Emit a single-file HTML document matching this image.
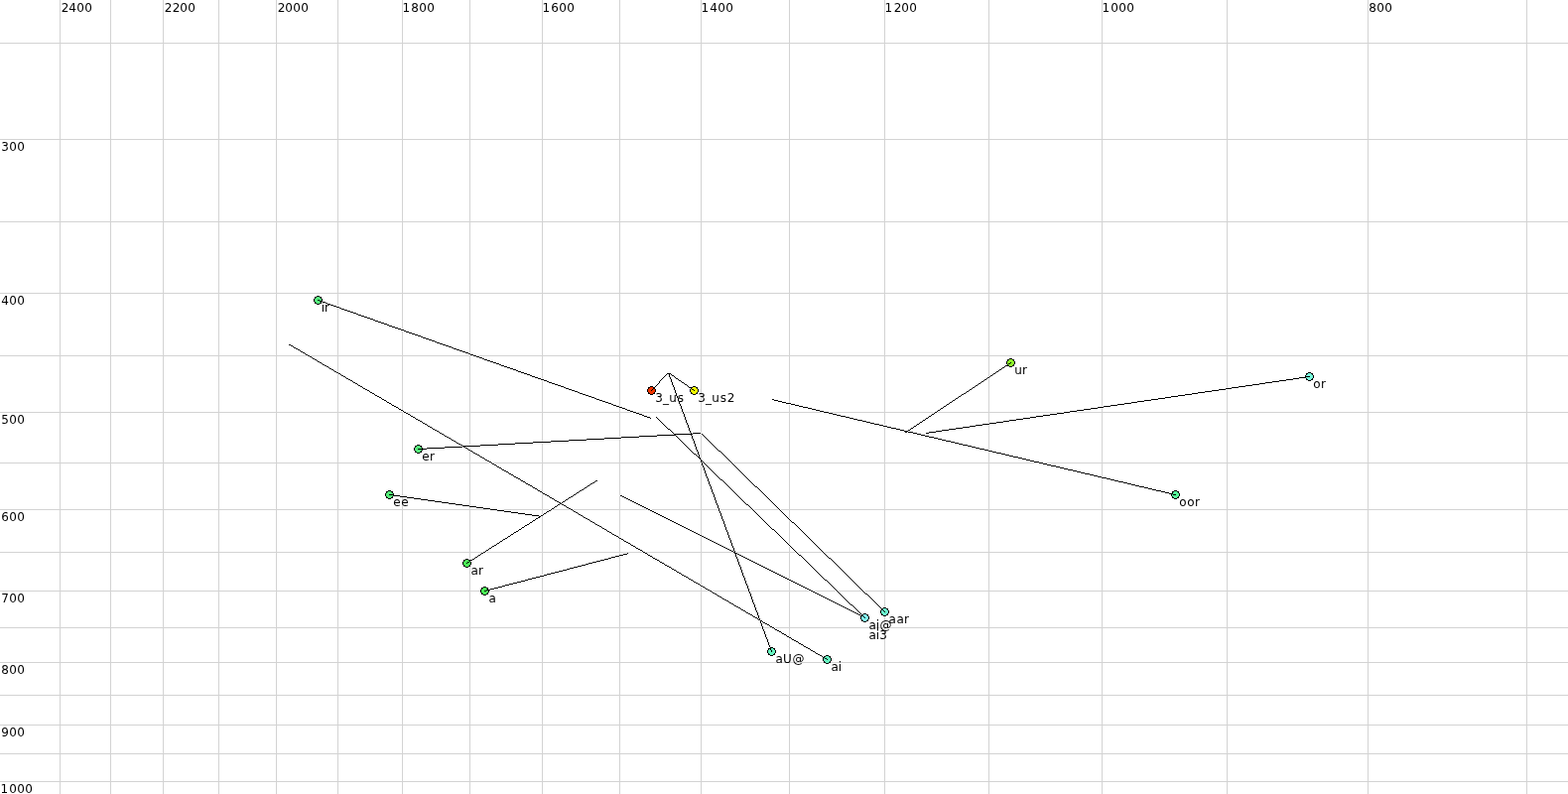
<!DOCTYPE html>
<html><head><meta charset="utf-8"><title>Vowel chart</title>
<style>html,body{margin:0;padding:0;background:#fff;overflow:hidden}svg{display:block}text{font-family:'DejaVu Sans','Liberation Sans',sans-serif;font-size:12px;fill:#000}</style></head><body>
<svg width="1580" height="800" viewBox="0 0 1580 800">
<rect width="1580" height="800" fill="#fff"/>
<path fill="#d3d3d3" shape-rendering="crispEdges" d="M60 0h1v800h-1zM111 0h1v800h-1zM164 0h1v800h-1zM220 0h1v800h-1zM278 0h1v800h-1zM340 0h1v800h-1zM405 0h1v800h-1zM473 0h1v800h-1zM546 0h1v800h-1zM624 0h1v800h-1zM706 0h1v800h-1zM795 0h1v800h-1zM891 0h1v800h-1zM996 0h1v800h-1zM1110 0h1v800h-1zM1236 0h1v800h-1zM1378 0h1v800h-1zM1538 0h1v800h-1zM0 43h1580v1h-1580zM0 140h1580v1h-1580zM0 223h1580v1h-1580zM0 295h1580v1h-1580zM0 358h1580v1h-1580zM0 415h1580v1h-1580zM0 466h1580v1h-1580zM0 513h1580v1h-1580zM0 556h1580v1h-1580zM0 595h1580v1h-1580zM0 632h1580v1h-1580zM0 667h1580v1h-1580zM0 700h1580v1h-1580zM0 730h1580v1h-1580zM0 759h1580v1h-1580zM0 787h1580v1h-1580z"/>
<path fill="none" stroke="#fff" stroke-width="2" stroke-linecap="square" d="M320.500 302.500L655.500 421.165M833.500 664.500L291.660 347.190M656.500 393.500L672.500 376.500M699.500 393.500L674.920 376.500M777.500 656.500L673.850 376.500M421.500 452.500L705.500 436.560M891.500 616.500L707.500 437.470M871.500 622.500L661.500 420.475M1184.500 498.500L778.500 402.740M1018.500 365.500L912.580 435.730M1319.500 379.500L933.500 436.345M392.500 498.500L544.500 520.210M470.500 567.500L601.360 484.230M488.500 595.500L632.500 557.770M871.500 622.500L625.500 499.250"/>
<text x="61.84 69.23 77.19 85.19" y="12">2400</text>
<text x="165.84 173.84 181.19 189.19" y="12">2200</text>
<text x="279.84 287.19 295.19 303.19" y="12">2000</text>
<text x="405.58 414.19 422.19 430.19" y="12">1800</text>
<text x="546.58 555.14 563.19 571.19" y="12">1600</text>
<text x="706.58 715.23 723.19 731.19" y="12">1400</text>
<text x="891.58 900.84 908.19 916.19" y="12">1200</text>
<text x="1110.58 1119.19 1127.19 1135.19" y="12">1000</text>
<text x="1379.19 1387.19 1395.19" y="12">800</text>
<text x="1.21 9.19 17.19" y="152">300</text>
<text x="1.23 9.19 17.19" y="307">400</text>
<text x="1.24 9.19 17.19" y="427">500</text>
<text x="1.14 9.19 17.19" y="525">600</text>
<text x="1.2 9.19 17.19" y="607">700</text>
<text x="1.19 9.19 17.19" y="679">800</text>
<text x="1.23 9.19 17.19" y="742">900</text>
<text x="0.58 9.19 17.19 25.19" y="799">1000</text>
<text x="323.83 326.99" y="314">ir</text>
<text x="660.21 668 674.23 682.84" y="405">3_us</text>
<text x="703.21 711 717.23 725.84 732.84" y="405">3_us2</text>
<text x="1022.23 1029.99" y="377">ur</text>
<text x="1323.33 1330.99" y="391">or</text>
<text x="425.3 432.99" y="464">er</text>
<text x="396.3 404.3" y="510">ee</text>
<text x="1188.33 1196.33 1203.99" y="510">oor</text>
<text x="474.51 481.99" y="579">ar</text>
<text x="492.51" y="607">a</text>
<text x="875.51 882.83 886.52" y="634">ai@</text>
<text x="875.51 882.83 886.21" y="644">ai3</text>
<text x="895.51 903.51 910.99" y="628">aar</text>
<text x="781.51 789.11 798.52" y="668">aU@</text>
<text x="837.51 844.83" y="676">ai</text>
<g transform="translate(316 298)" shape-rendering="crispEdges"><path fill="#55f27d" d="M3 1h3v1h-3zM2 2h5v1h-5zM1 3h7v1h-7zM1 4h7v1h-7zM1 5h7v1h-7zM2 6h5v1h-5zM3 7h3v1h-3z"/><path fill="#000" d="M3 0h3v1h-3zM1 1h2v1h-2zM6 1h2v1h-2zM1 2h1v1h-1zM7 2h1v1h-1zM0 3h1v1h-1zM8 3h1v1h-1zM0 4h1v1h-1zM8 4h1v1h-1zM0 5h1v1h-1zM8 5h1v1h-1zM1 6h1v1h-1zM7 6h1v1h-1zM1 7h2v1h-2zM6 7h2v1h-2zM3 8h3v1h-3z"/></g>
<g transform="translate(652 389)" shape-rendering="crispEdges"><path fill="#f03400" d="M3 1h3v1h-3zM2 2h5v1h-5zM1 3h7v1h-7zM1 4h7v1h-7zM1 5h7v1h-7zM2 6h5v1h-5zM3 7h3v1h-3z"/><path fill="#000" d="M3 0h3v1h-3zM1 1h2v1h-2zM6 1h2v1h-2zM1 2h1v1h-1zM7 2h1v1h-1zM0 3h1v1h-1zM8 3h1v1h-1zM0 4h1v1h-1zM8 4h1v1h-1zM0 5h1v1h-1zM8 5h1v1h-1zM1 6h1v1h-1zM7 6h1v1h-1zM1 7h2v1h-2zM6 7h2v1h-2zM3 8h3v1h-3z"/></g>
<g transform="translate(695 389)" shape-rendering="crispEdges"><path fill="#f2ff00" d="M3 1h3v1h-3zM2 2h5v1h-5zM1 3h7v1h-7zM1 4h7v1h-7zM1 5h7v1h-7zM2 6h5v1h-5zM3 7h3v1h-3z"/><path fill="#000" d="M3 0h3v1h-3zM1 1h2v1h-2zM6 1h2v1h-2zM1 2h1v1h-1zM7 2h1v1h-1zM0 3h1v1h-1zM8 3h1v1h-1zM0 4h1v1h-1zM8 4h1v1h-1zM0 5h1v1h-1zM8 5h1v1h-1zM1 6h1v1h-1zM7 6h1v1h-1zM1 7h2v1h-2zM6 7h2v1h-2zM3 8h3v1h-3z"/></g>
<g transform="translate(1014 361)" shape-rendering="crispEdges"><path fill="#8cfa28" d="M3 1h3v1h-3zM2 2h5v1h-5zM1 3h7v1h-7zM1 4h7v1h-7zM1 5h7v1h-7zM2 6h5v1h-5zM3 7h3v1h-3z"/><path fill="#000" d="M3 0h3v1h-3zM1 1h2v1h-2zM6 1h2v1h-2zM1 2h1v1h-1zM7 2h1v1h-1zM0 3h1v1h-1zM8 3h1v1h-1zM0 4h1v1h-1zM8 4h1v1h-1zM0 5h1v1h-1zM8 5h1v1h-1zM1 6h1v1h-1zM7 6h1v1h-1zM1 7h2v1h-2zM6 7h2v1h-2zM3 8h3v1h-3z"/></g>
<g transform="translate(1315 375)" shape-rendering="crispEdges"><path fill="#78fadc" d="M3 1h3v1h-3zM2 2h5v1h-5zM1 3h7v1h-7zM1 4h7v1h-7zM1 5h7v1h-7zM2 6h5v1h-5zM3 7h3v1h-3z"/><path fill="#000" d="M3 0h3v1h-3zM1 1h2v1h-2zM6 1h2v1h-2zM1 2h1v1h-1zM7 2h1v1h-1zM0 3h1v1h-1zM8 3h1v1h-1zM0 4h1v1h-1zM8 4h1v1h-1zM0 5h1v1h-1zM8 5h1v1h-1zM1 6h1v1h-1zM7 6h1v1h-1zM1 7h2v1h-2zM6 7h2v1h-2zM3 8h3v1h-3z"/></g>
<g transform="translate(417 448)" shape-rendering="crispEdges"><path fill="#55f07a" d="M3 1h3v1h-3zM2 2h5v1h-5zM1 3h7v1h-7zM1 4h7v1h-7zM1 5h7v1h-7zM2 6h5v1h-5zM3 7h3v1h-3z"/><path fill="#000" d="M3 0h3v1h-3zM1 1h2v1h-2zM6 1h2v1h-2zM1 2h1v1h-1zM7 2h1v1h-1zM0 3h1v1h-1zM8 3h1v1h-1zM0 4h1v1h-1zM8 4h1v1h-1zM0 5h1v1h-1zM8 5h1v1h-1zM1 6h1v1h-1zM7 6h1v1h-1zM1 7h2v1h-2zM6 7h2v1h-2zM3 8h3v1h-3z"/></g>
<g transform="translate(388 494)" shape-rendering="crispEdges"><path fill="#55f07a" d="M3 1h3v1h-3zM2 2h5v1h-5zM1 3h7v1h-7zM1 4h7v1h-7zM1 5h7v1h-7zM2 6h5v1h-5zM3 7h3v1h-3z"/><path fill="#000" d="M3 0h3v1h-3zM1 1h2v1h-2zM6 1h2v1h-2zM1 2h1v1h-1zM7 2h1v1h-1zM0 3h1v1h-1zM8 3h1v1h-1zM0 4h1v1h-1zM8 4h1v1h-1zM0 5h1v1h-1zM8 5h1v1h-1zM1 6h1v1h-1zM7 6h1v1h-1zM1 7h2v1h-2zM6 7h2v1h-2zM3 8h3v1h-3z"/></g>
<g transform="translate(1180 494)" shape-rendering="crispEdges"><path fill="#55f898" d="M3 1h3v1h-3zM2 2h5v1h-5zM1 3h7v1h-7zM1 4h7v1h-7zM1 5h7v1h-7zM2 6h5v1h-5zM3 7h3v1h-3z"/><path fill="#000" d="M3 0h3v1h-3zM1 1h2v1h-2zM6 1h2v1h-2zM1 2h1v1h-1zM7 2h1v1h-1zM0 3h1v1h-1zM8 3h1v1h-1zM0 4h1v1h-1zM8 4h1v1h-1zM0 5h1v1h-1zM8 5h1v1h-1zM1 6h1v1h-1zM7 6h1v1h-1zM1 7h2v1h-2zM6 7h2v1h-2zM3 8h3v1h-3z"/></g>
<g transform="translate(466 563)" shape-rendering="crispEdges"><path fill="#4aee55" d="M3 1h3v1h-3zM2 2h5v1h-5zM1 3h7v1h-7zM1 4h7v1h-7zM1 5h7v1h-7zM2 6h5v1h-5zM3 7h3v1h-3z"/><path fill="#000" d="M3 0h3v1h-3zM1 1h2v1h-2zM6 1h2v1h-2zM1 2h1v1h-1zM7 2h1v1h-1zM0 3h1v1h-1zM8 3h1v1h-1zM0 4h1v1h-1zM8 4h1v1h-1zM0 5h1v1h-1zM8 5h1v1h-1zM1 6h1v1h-1zM7 6h1v1h-1zM1 7h2v1h-2zM6 7h2v1h-2zM3 8h3v1h-3z"/></g>
<g transform="translate(484 591)" shape-rendering="crispEdges"><path fill="#4aee55" d="M3 1h3v1h-3zM2 2h5v1h-5zM1 3h7v1h-7zM1 4h7v1h-7zM1 5h7v1h-7zM2 6h5v1h-5zM3 7h3v1h-3z"/><path fill="#000" d="M3 0h3v1h-3zM1 1h2v1h-2zM6 1h2v1h-2zM1 2h1v1h-1zM7 2h1v1h-1zM0 3h1v1h-1zM8 3h1v1h-1zM0 4h1v1h-1zM8 4h1v1h-1zM0 5h1v1h-1zM8 5h1v1h-1zM1 6h1v1h-1zM7 6h1v1h-1zM1 7h2v1h-2zM6 7h2v1h-2zM3 8h3v1h-3z"/></g>
<g transform="translate(867 618)" shape-rendering="crispEdges"><path fill="#80fcf4" d="M3 1h3v1h-3zM2 2h5v1h-5zM1 3h7v1h-7zM1 4h7v1h-7zM1 5h7v1h-7zM2 6h5v1h-5zM3 7h3v1h-3z"/><path fill="#000" d="M3 0h3v1h-3zM1 1h2v1h-2zM6 1h2v1h-2zM1 2h1v1h-1zM7 2h1v1h-1zM0 3h1v1h-1zM8 3h1v1h-1zM0 4h1v1h-1zM8 4h1v1h-1zM0 5h1v1h-1zM8 5h1v1h-1zM1 6h1v1h-1zM7 6h1v1h-1zM1 7h2v1h-2zM6 7h2v1h-2zM3 8h3v1h-3z"/></g>
<g transform="translate(887 612)" shape-rendering="crispEdges"><path fill="#6af7cc" d="M3 1h3v1h-3zM2 2h5v1h-5zM1 3h7v1h-7zM1 4h7v1h-7zM1 5h7v1h-7zM2 6h5v1h-5zM3 7h3v1h-3z"/><path fill="#000" d="M3 0h3v1h-3zM1 1h2v1h-2zM6 1h2v1h-2zM1 2h1v1h-1zM7 2h1v1h-1zM0 3h1v1h-1zM8 3h1v1h-1zM0 4h1v1h-1zM8 4h1v1h-1zM0 5h1v1h-1zM8 5h1v1h-1zM1 6h1v1h-1zM7 6h1v1h-1zM1 7h2v1h-2zM6 7h2v1h-2zM3 8h3v1h-3z"/></g>
<g transform="translate(773 652)" shape-rendering="crispEdges"><path fill="#66f5c0" d="M3 1h3v1h-3zM2 2h5v1h-5zM1 3h7v1h-7zM1 4h7v1h-7zM1 5h7v1h-7zM2 6h5v1h-5zM3 7h3v1h-3z"/><path fill="#000" d="M3 0h3v1h-3zM1 1h2v1h-2zM6 1h2v1h-2zM1 2h1v1h-1zM7 2h1v1h-1zM0 3h1v1h-1zM8 3h1v1h-1zM0 4h1v1h-1zM8 4h1v1h-1zM0 5h1v1h-1zM8 5h1v1h-1zM1 6h1v1h-1zM7 6h1v1h-1zM1 7h2v1h-2zM6 7h2v1h-2zM3 8h3v1h-3z"/></g>
<g transform="translate(829 660)" shape-rendering="crispEdges"><path fill="#66f5c0" d="M3 1h3v1h-3zM2 2h5v1h-5zM1 3h7v1h-7zM1 4h7v1h-7zM1 5h7v1h-7zM2 6h5v1h-5zM3 7h3v1h-3z"/><path fill="#000" d="M3 0h3v1h-3zM1 1h2v1h-2zM6 1h2v1h-2zM1 2h1v1h-1zM7 2h1v1h-1zM0 3h1v1h-1zM8 3h1v1h-1zM0 4h1v1h-1zM8 4h1v1h-1zM0 5h1v1h-1zM8 5h1v1h-1zM1 6h1v1h-1zM7 6h1v1h-1zM1 7h2v1h-2zM6 7h2v1h-2zM3 8h3v1h-3z"/></g>
<path fill="#000" shape-rendering="crispEdges" d="M320 302h2v1h-2zM322 303h3v1h-3zM325 304h3v1h-3zM328 305h2v1h-2zM330 306h3v1h-3zM333 307h3v1h-3zM336 308h3v1h-3zM339 309h3v1h-3zM342 310h2v1h-2zM344 311h3v1h-3zM347 312h3v1h-3zM350 313h3v1h-3zM353 314h3v1h-3zM356 315h3v1h-3zM359 316h2v1h-2zM361 317h3v1h-3zM364 318h3v1h-3zM367 319h3v1h-3zM370 320h3v1h-3zM373 321h3v1h-3zM376 322h2v1h-2zM378 323h3v1h-3zM381 324h3v1h-3zM384 325h3v1h-3zM387 326h3v1h-3zM390 327h2v1h-2zM392 328h3v1h-3zM395 329h3v1h-3zM398 330h3v1h-3zM401 331h3v1h-3zM404 332h3v1h-3zM407 333h2v1h-2zM409 334h3v1h-3zM412 335h3v1h-3zM415 336h3v1h-3zM418 337h3v1h-3zM421 338h3v1h-3zM424 339h2v1h-2zM426 340h3v1h-3zM429 341h3v1h-3zM432 342h3v1h-3zM435 343h3v1h-3zM438 344h2v1h-2zM440 345h3v1h-3zM443 346h3v1h-3zM291 347h2v1h-2zM446 347h3v1h-3zM293 348h2v1h-2zM449 348h3v1h-3zM295 349h1v1h-1zM452 349h3v1h-3zM296 350h2v1h-2zM455 350h2v1h-2zM298 351h2v1h-2zM457 351h3v1h-3zM300 352h2v1h-2zM460 352h3v1h-3zM302 353h1v1h-1zM463 353h3v1h-3zM303 354h2v1h-2zM466 354h3v1h-3zM305 355h2v1h-2zM469 355h3v1h-3zM307 356h1v1h-1zM472 356h2v1h-2zM308 357h2v1h-2zM474 357h3v1h-3zM310 358h2v1h-2zM477 358h3v1h-3zM312 359h2v1h-2zM480 359h3v1h-3zM314 360h1v1h-1zM483 360h3v1h-3zM315 361h2v1h-2zM486 361h2v1h-2zM317 362h2v1h-2zM488 362h3v1h-3zM319 363h1v1h-1zM491 363h3v1h-3zM320 364h2v1h-2zM494 364h3v1h-3zM322 365h2v1h-2zM497 365h3v1h-3zM1018 365h1v1h-1zM324 366h1v1h-1zM500 366h3v1h-3zM1016 366h2v1h-2zM325 367h2v1h-2zM503 367h2v1h-2zM1015 367h1v1h-1zM327 368h2v1h-2zM505 368h3v1h-3zM1013 368h2v1h-2zM329 369h2v1h-2zM508 369h3v1h-3zM1012 369h1v1h-1zM331 370h1v1h-1zM511 370h3v1h-3zM1010 370h2v1h-2zM332 371h2v1h-2zM514 371h3v1h-3zM1009 371h1v1h-1zM334 372h2v1h-2zM517 372h3v1h-3zM1007 372h2v1h-2zM336 373h1v1h-1zM520 373h2v1h-2zM1006 373h1v1h-1zM337 374h2v1h-2zM522 374h3v1h-3zM1004 374h2v1h-2zM339 375h2v1h-2zM525 375h3v1h-3zM1003 375h1v1h-1zM341 376h2v1h-2zM528 376h3v1h-3zM672 376h4v1h-4zM1001 376h2v1h-2zM343 377h1v1h-1zM531 377h3v1h-3zM671 377h1v1h-1zM674 377h1v1h-1zM676 377h1v1h-1zM1000 377h1v1h-1zM344 378h2v1h-2zM534 378h2v1h-2zM670 378h1v1h-1zM674 378h1v1h-1zM677 378h2v1h-2zM998 378h2v1h-2zM346 379h2v1h-2zM536 379h3v1h-3zM669 379h1v1h-1zM674 379h1v1h-1zM679 379h1v1h-1zM997 379h1v1h-1zM1316 379h4v1h-4zM348 380h1v1h-1zM539 380h3v1h-3zM668 380h1v1h-1zM675 380h1v1h-1zM680 380h1v1h-1zM995 380h2v1h-2zM1309 380h7v1h-7zM349 381h2v1h-2zM542 381h3v1h-3zM667 381h1v1h-1zM675 381h1v1h-1zM681 381h2v1h-2zM994 381h1v1h-1zM1303 381h6v1h-6zM351 382h2v1h-2zM545 382h3v1h-3zM666 382h1v1h-1zM676 382h1v1h-1zM683 382h1v1h-1zM992 382h2v1h-2zM1296 382h7v1h-7zM353 383h2v1h-2zM548 383h3v1h-3zM665 383h1v1h-1zM676 383h1v1h-1zM684 383h2v1h-2zM991 383h1v1h-1zM1289 383h7v1h-7zM355 384h1v1h-1zM551 384h2v1h-2zM664 384h1v1h-1zM676 384h1v1h-1zM686 384h1v1h-1zM989 384h2v1h-2zM1282 384h7v1h-7zM356 385h2v1h-2zM553 385h3v1h-3zM664 385h1v1h-1zM677 385h1v1h-1zM687 385h2v1h-2zM988 385h1v1h-1zM1275 385h7v1h-7zM358 386h2v1h-2zM556 386h3v1h-3zM663 386h1v1h-1zM677 386h1v1h-1zM689 386h1v1h-1zM986 386h2v1h-2zM1269 386h6v1h-6zM360 387h1v1h-1zM559 387h3v1h-3zM662 387h1v1h-1zM677 387h1v1h-1zM690 387h2v1h-2zM985 387h1v1h-1zM1262 387h7v1h-7zM361 388h2v1h-2zM562 388h3v1h-3zM661 388h1v1h-1zM678 388h1v1h-1zM692 388h1v1h-1zM983 388h2v1h-2zM1255 388h7v1h-7zM363 389h2v1h-2zM565 389h3v1h-3zM660 389h1v1h-1zM678 389h1v1h-1zM693 389h1v1h-1zM982 389h1v1h-1zM1248 389h7v1h-7zM365 390h1v1h-1zM568 390h2v1h-2zM659 390h1v1h-1zM679 390h1v1h-1zM694 390h2v1h-2zM980 390h2v1h-2zM1241 390h7v1h-7zM366 391h2v1h-2zM570 391h3v1h-3zM658 391h1v1h-1zM679 391h1v1h-1zM696 391h1v1h-1zM979 391h1v1h-1zM1235 391h6v1h-6zM368 392h2v1h-2zM573 392h3v1h-3zM657 392h1v1h-1zM679 392h1v1h-1zM697 392h2v1h-2zM977 392h2v1h-2zM1228 392h7v1h-7zM370 393h2v1h-2zM576 393h3v1h-3zM656 393h1v1h-1zM680 393h1v1h-1zM699 393h1v1h-1zM976 393h1v1h-1zM1221 393h7v1h-7zM372 394h1v1h-1zM579 394h3v1h-3zM680 394h1v1h-1zM974 394h2v1h-2zM1214 394h7v1h-7zM373 395h2v1h-2zM582 395h2v1h-2zM680 395h1v1h-1zM973 395h1v1h-1zM1207 395h7v1h-7zM375 396h2v1h-2zM584 396h3v1h-3zM681 396h1v1h-1zM971 396h2v1h-2zM1201 396h6v1h-6zM377 397h1v1h-1zM587 397h3v1h-3zM681 397h1v1h-1zM969 397h2v1h-2zM1194 397h7v1h-7zM378 398h2v1h-2zM590 398h3v1h-3zM681 398h1v1h-1zM968 398h1v1h-1zM1187 398h7v1h-7zM380 399h2v1h-2zM593 399h3v1h-3zM682 399h1v1h-1zM966 399h2v1h-2zM1180 399h7v1h-7zM382 400h2v1h-2zM596 400h3v1h-3zM682 400h1v1h-1zM965 400h1v1h-1zM1174 400h6v1h-6zM384 401h1v1h-1zM599 401h2v1h-2zM683 401h1v1h-1zM963 401h2v1h-2zM1167 401h7v1h-7zM385 402h2v1h-2zM601 402h3v1h-3zM683 402h1v1h-1zM778 402h2v1h-2zM962 402h1v1h-1zM1160 402h7v1h-7zM387 403h2v1h-2zM604 403h3v1h-3zM683 403h1v1h-1zM780 403h4v1h-4zM960 403h2v1h-2zM1153 403h7v1h-7zM389 404h1v1h-1zM607 404h3v1h-3zM684 404h1v1h-1zM784 404h4v1h-4zM959 404h1v1h-1zM1146 404h7v1h-7zM390 405h2v1h-2zM610 405h3v1h-3zM684 405h1v1h-1zM788 405h4v1h-4zM957 405h2v1h-2zM1140 405h6v1h-6zM392 406h2v1h-2zM613 406h3v1h-3zM684 406h1v1h-1zM792 406h5v1h-5zM956 406h1v1h-1zM1133 406h7v1h-7zM394 407h1v1h-1zM616 407h2v1h-2zM685 407h1v1h-1zM797 407h4v1h-4zM954 407h2v1h-2zM1126 407h7v1h-7zM395 408h2v1h-2zM618 408h3v1h-3zM685 408h1v1h-1zM801 408h4v1h-4zM953 408h1v1h-1zM1119 408h7v1h-7zM397 409h2v1h-2zM621 409h3v1h-3zM686 409h1v1h-1zM805 409h4v1h-4zM951 409h2v1h-2zM1112 409h7v1h-7zM399 410h2v1h-2zM624 410h3v1h-3zM686 410h1v1h-1zM809 410h5v1h-5zM950 410h1v1h-1zM1106 410h6v1h-6zM401 411h1v1h-1zM627 411h3v1h-3zM686 411h1v1h-1zM814 411h4v1h-4zM948 411h2v1h-2zM1099 411h7v1h-7zM402 412h2v1h-2zM630 412h2v1h-2zM687 412h1v1h-1zM818 412h4v1h-4zM947 412h1v1h-1zM1092 412h7v1h-7zM404 413h2v1h-2zM632 413h3v1h-3zM687 413h1v1h-1zM822 413h4v1h-4zM945 413h2v1h-2zM1085 413h7v1h-7zM406 414h1v1h-1zM635 414h3v1h-3zM687 414h1v1h-1zM826 414h4v1h-4zM944 414h1v1h-1zM1078 414h7v1h-7zM407 415h2v1h-2zM638 415h3v1h-3zM688 415h1v1h-1zM830 415h5v1h-5zM942 415h2v1h-2zM1072 415h6v1h-6zM409 416h2v1h-2zM641 416h3v1h-3zM688 416h1v1h-1zM835 416h4v1h-4zM941 416h1v1h-1zM1065 416h7v1h-7zM411 417h2v1h-2zM644 417h3v1h-3zM689 417h1v1h-1zM839 417h4v1h-4zM939 417h2v1h-2zM1058 417h7v1h-7zM413 418h1v1h-1zM647 418h2v1h-2zM689 418h1v1h-1zM843 418h4v1h-4zM938 418h1v1h-1zM1051 418h7v1h-7zM414 419h2v1h-2zM649 419h3v1h-3zM689 419h1v1h-1zM847 419h5v1h-5zM936 419h2v1h-2zM1044 419h7v1h-7zM416 420h2v1h-2zM652 420h3v1h-3zM690 420h1v1h-1zM852 420h4v1h-4zM935 420h1v1h-1zM1038 420h6v1h-6zM418 421h1v1h-1zM655 421h1v1h-1zM690 421h1v1h-1zM856 421h4v1h-4zM933 421h2v1h-2zM1031 421h7v1h-7zM419 422h2v1h-2zM690 422h1v1h-1zM860 422h4v1h-4zM932 422h1v1h-1zM1024 422h7v1h-7zM421 423h2v1h-2zM691 423h1v1h-1zM864 423h5v1h-5zM930 423h2v1h-2zM1017 423h7v1h-7zM423 424h2v1h-2zM691 424h1v1h-1zM869 424h4v1h-4zM929 424h1v1h-1zM1011 424h6v1h-6zM425 425h1v1h-1zM691 425h1v1h-1zM873 425h4v1h-4zM927 425h2v1h-2zM1004 425h7v1h-7zM426 426h2v1h-2zM692 426h1v1h-1zM877 426h4v1h-4zM926 426h1v1h-1zM997 426h7v1h-7zM428 427h2v1h-2zM692 427h1v1h-1zM881 427h5v1h-5zM924 427h2v1h-2zM990 427h7v1h-7zM430 428h1v1h-1zM693 428h1v1h-1zM886 428h4v1h-4zM923 428h1v1h-1zM983 428h7v1h-7zM431 429h2v1h-2zM693 429h1v1h-1zM890 429h4v1h-4zM921 429h2v1h-2zM977 429h6v1h-6zM433 430h2v1h-2zM693 430h1v1h-1zM894 430h4v1h-4zM920 430h1v1h-1zM970 430h7v1h-7zM435 431h1v1h-1zM694 431h1v1h-1zM898 431h5v1h-5zM918 431h2v1h-2zM963 431h7v1h-7zM436 432h2v1h-2zM694 432h1v1h-1zM903 432h4v1h-4zM917 432h1v1h-1zM956 432h7v1h-7zM438 433h2v1h-2zM694 433h1v1h-1zM907 433h4v1h-4zM915 433h2v1h-2zM949 433h7v1h-7zM440 434h2v1h-2zM695 434h1v1h-1zM911 434h4v1h-4zM943 434h6v1h-6zM442 435h1v1h-1zM695 435h1v1h-1zM912 435h2v1h-2zM915 435h5v1h-5zM936 435h7v1h-7zM443 436h2v1h-2zM696 436h1v1h-1zM698 436h8v1h-8zM920 436h4v1h-4zM933 436h3v1h-3zM445 437h2v1h-2zM680 437h18v1h-18zM707 437h1v1h-1zM924 437h4v1h-4zM447 438h1v1h-1zM662 438h18v1h-18zM696 438h1v1h-1zM708 438h1v1h-1zM928 438h4v1h-4zM448 439h2v1h-2zM644 439h18v1h-18zM697 439h1v1h-1zM709 439h1v1h-1zM932 439h4v1h-4zM450 440h2v1h-2zM626 440h18v1h-18zM697 440h1v1h-1zM710 440h1v1h-1zM936 440h5v1h-5zM452 441h2v1h-2zM609 441h17v1h-17zM697 441h1v1h-1zM711 441h1v1h-1zM941 441h4v1h-4zM454 442h1v1h-1zM591 442h18v1h-18zM698 442h1v1h-1zM712 442h1v1h-1zM945 442h4v1h-4zM455 443h2v1h-2zM573 443h18v1h-18zM698 443h1v1h-1zM713 443h1v1h-1zM949 443h4v1h-4zM457 444h2v1h-2zM555 444h18v1h-18zM699 444h1v1h-1zM714 444h1v1h-1zM953 444h5v1h-5zM459 445h1v1h-1zM537 445h18v1h-18zM699 445h1v1h-1zM715 445h1v1h-1zM958 445h4v1h-4zM460 446h2v1h-2zM519 446h18v1h-18zM699 446h1v1h-1zM716 446h1v1h-1zM962 446h4v1h-4zM462 447h2v1h-2zM502 447h17v1h-17zM700 447h1v1h-1zM717 447h1v1h-1zM966 447h4v1h-4zM464 448h2v1h-2zM484 448h18v1h-18zM700 448h1v1h-1zM718 448h1v1h-1zM970 448h5v1h-5zM466 449h18v1h-18zM700 449h1v1h-1zM719 449h1v1h-1zM975 449h4v1h-4zM448 450h18v1h-18zM467 450h2v1h-2zM701 450h1v1h-1zM720 450h1v1h-1zM979 450h4v1h-4zM430 451h18v1h-18zM469 451h2v1h-2zM701 451h1v1h-1zM721 451h1v1h-1zM983 451h4v1h-4zM421 452h9v1h-9zM471 452h1v1h-1zM701 452h1v1h-1zM722 452h1v1h-1zM987 452h5v1h-5zM472 453h2v1h-2zM702 453h1v1h-1zM723 453h1v1h-1zM992 453h4v1h-4zM474 454h2v1h-2zM702 454h1v1h-1zM724 454h2v1h-2zM996 454h4v1h-4zM476 455h1v1h-1zM703 455h1v1h-1zM726 455h1v1h-1zM1000 455h4v1h-4zM477 456h2v1h-2zM703 456h1v1h-1zM727 456h1v1h-1zM1004 456h5v1h-5zM479 457h2v1h-2zM703 457h1v1h-1zM728 457h1v1h-1zM1009 457h4v1h-4zM481 458h2v1h-2zM704 458h1v1h-1zM729 458h1v1h-1zM1013 458h4v1h-4zM483 459h1v1h-1zM704 459h1v1h-1zM730 459h1v1h-1zM1017 459h4v1h-4zM484 460h2v1h-2zM704 460h1v1h-1zM731 460h1v1h-1zM1021 460h5v1h-5zM486 461h2v1h-2zM705 461h1v1h-1zM732 461h1v1h-1zM1026 461h4v1h-4zM488 462h1v1h-1zM705 462h1v1h-1zM733 462h1v1h-1zM1030 462h4v1h-4zM489 463h2v1h-2zM706 463h1v1h-1zM734 463h1v1h-1zM1034 463h4v1h-4zM491 464h2v1h-2zM706 464h1v1h-1zM735 464h1v1h-1zM1038 464h4v1h-4zM493 465h2v1h-2zM706 465h1v1h-1zM736 465h1v1h-1zM1042 465h5v1h-5zM495 466h1v1h-1zM707 466h1v1h-1zM737 466h1v1h-1zM1047 466h4v1h-4zM496 467h2v1h-2zM707 467h1v1h-1zM738 467h1v1h-1zM1051 467h4v1h-4zM498 468h2v1h-2zM707 468h1v1h-1zM739 468h1v1h-1zM1055 468h4v1h-4zM500 469h1v1h-1zM708 469h1v1h-1zM740 469h1v1h-1zM1059 469h5v1h-5zM501 470h2v1h-2zM708 470h1v1h-1zM741 470h1v1h-1zM1064 470h4v1h-4zM503 471h2v1h-2zM709 471h1v1h-1zM742 471h1v1h-1zM1068 471h4v1h-4zM505 472h1v1h-1zM709 472h1v1h-1zM743 472h1v1h-1zM1072 472h4v1h-4zM506 473h2v1h-2zM709 473h1v1h-1zM744 473h1v1h-1zM1076 473h5v1h-5zM508 474h2v1h-2zM710 474h1v1h-1zM745 474h1v1h-1zM1081 474h4v1h-4zM510 475h2v1h-2zM710 475h1v1h-1zM746 475h1v1h-1zM1085 475h4v1h-4zM512 476h1v1h-1zM710 476h1v1h-1zM747 476h1v1h-1zM1089 476h4v1h-4zM513 477h2v1h-2zM711 477h1v1h-1zM748 477h1v1h-1zM1093 477h5v1h-5zM515 478h2v1h-2zM711 478h1v1h-1zM749 478h1v1h-1zM1098 478h4v1h-4zM517 479h1v1h-1zM711 479h1v1h-1zM750 479h1v1h-1zM1102 479h4v1h-4zM518 480h2v1h-2zM712 480h1v1h-1zM751 480h1v1h-1zM1106 480h4v1h-4zM520 481h2v1h-2zM712 481h1v1h-1zM752 481h1v1h-1zM1110 481h5v1h-5zM522 482h2v1h-2zM713 482h1v1h-1zM753 482h1v1h-1zM1115 482h4v1h-4zM524 483h1v1h-1zM713 483h1v1h-1zM754 483h1v1h-1zM1119 483h4v1h-4zM525 484h2v1h-2zM600 484h2v1h-2zM713 484h1v1h-1zM755 484h1v1h-1zM1123 484h4v1h-4zM527 485h2v1h-2zM599 485h1v1h-1zM714 485h1v1h-1zM756 485h1v1h-1zM1127 485h5v1h-5zM529 486h1v1h-1zM597 486h2v1h-2zM714 486h1v1h-1zM757 486h1v1h-1zM1132 486h4v1h-4zM530 487h2v1h-2zM595 487h2v1h-2zM714 487h1v1h-1zM758 487h1v1h-1zM1136 487h4v1h-4zM532 488h2v1h-2zM594 488h1v1h-1zM715 488h1v1h-1zM759 488h1v1h-1zM1140 488h4v1h-4zM534 489h2v1h-2zM592 489h2v1h-2zM715 489h1v1h-1zM760 489h1v1h-1zM1144 489h4v1h-4zM536 490h1v1h-1zM591 490h1v1h-1zM716 490h1v1h-1zM761 490h2v1h-2zM1148 490h5v1h-5zM537 491h2v1h-2zM589 491h2v1h-2zM716 491h1v1h-1zM763 491h1v1h-1zM1153 491h4v1h-4zM539 492h2v1h-2zM588 492h1v1h-1zM716 492h1v1h-1zM764 492h1v1h-1zM1157 492h4v1h-4zM541 493h1v1h-1zM586 493h2v1h-2zM717 493h1v1h-1zM765 493h1v1h-1zM1161 493h4v1h-4zM542 494h2v1h-2zM584 494h2v1h-2zM717 494h1v1h-1zM766 494h1v1h-1zM1165 494h5v1h-5zM544 495h2v1h-2zM583 495h1v1h-1zM717 495h1v1h-1zM767 495h1v1h-1zM1170 495h4v1h-4zM546 496h1v1h-1zM581 496h2v1h-2zM718 496h1v1h-1zM768 496h1v1h-1zM1174 496h4v1h-4zM547 497h2v1h-2zM580 497h1v1h-1zM718 497h1v1h-1zM769 497h1v1h-1zM1178 497h4v1h-4zM392 498h4v1h-4zM549 498h2v1h-2zM578 498h2v1h-2zM719 498h1v1h-1zM770 498h1v1h-1zM1182 498h3v1h-3zM396 499h7v1h-7zM551 499h2v1h-2zM577 499h1v1h-1zM625 499h2v1h-2zM719 499h1v1h-1zM771 499h1v1h-1zM403 500h7v1h-7zM553 500h1v1h-1zM575 500h2v1h-2zM627 500h2v1h-2zM719 500h1v1h-1zM772 500h1v1h-1zM410 501h7v1h-7zM554 501h2v1h-2zM573 501h2v1h-2zM629 501h2v1h-2zM720 501h1v1h-1zM773 501h1v1h-1zM417 502h7v1h-7zM556 502h2v1h-2zM572 502h1v1h-1zM631 502h2v1h-2zM720 502h1v1h-1zM774 502h1v1h-1zM424 503h7v1h-7zM558 503h1v1h-1zM570 503h2v1h-2zM633 503h2v1h-2zM720 503h1v1h-1zM775 503h1v1h-1zM431 504h7v1h-7zM559 504h2v1h-2zM569 504h1v1h-1zM635 504h2v1h-2zM721 504h1v1h-1zM776 504h1v1h-1zM438 505h7v1h-7zM561 505h2v1h-2zM567 505h2v1h-2zM637 505h2v1h-2zM721 505h1v1h-1zM777 505h1v1h-1zM445 506h7v1h-7zM563 506h2v1h-2zM566 506h1v1h-1zM639 506h2v1h-2zM721 506h1v1h-1zM778 506h1v1h-1zM452 507h7v1h-7zM564 507h2v1h-2zM641 507h2v1h-2zM722 507h1v1h-1zM779 507h1v1h-1zM459 508h7v1h-7zM562 508h2v1h-2zM566 508h2v1h-2zM643 508h2v1h-2zM722 508h1v1h-1zM780 508h1v1h-1zM466 509h7v1h-7zM561 509h1v1h-1zM568 509h2v1h-2zM645 509h2v1h-2zM723 509h1v1h-1zM781 509h1v1h-1zM473 510h7v1h-7zM559 510h2v1h-2zM570 510h1v1h-1zM647 510h2v1h-2zM723 510h1v1h-1zM782 510h1v1h-1zM480 511h7v1h-7zM558 511h1v1h-1zM571 511h2v1h-2zM649 511h2v1h-2zM723 511h1v1h-1zM783 511h1v1h-1zM487 512h7v1h-7zM556 512h2v1h-2zM573 512h2v1h-2zM651 512h2v1h-2zM724 512h1v1h-1zM784 512h1v1h-1zM494 513h7v1h-7zM555 513h1v1h-1zM575 513h2v1h-2zM653 513h2v1h-2zM724 513h1v1h-1zM785 513h1v1h-1zM501 514h7v1h-7zM553 514h2v1h-2zM577 514h1v1h-1zM655 514h2v1h-2zM724 514h1v1h-1zM786 514h1v1h-1zM508 515h7v1h-7zM551 515h2v1h-2zM578 515h2v1h-2zM657 515h2v1h-2zM725 515h1v1h-1zM787 515h1v1h-1zM515 516h7v1h-7zM550 516h1v1h-1zM580 516h2v1h-2zM659 516h2v1h-2zM725 516h1v1h-1zM788 516h1v1h-1zM522 517h7v1h-7zM548 517h2v1h-2zM582 517h1v1h-1zM661 517h2v1h-2zM726 517h1v1h-1zM789 517h1v1h-1zM529 518h7v1h-7zM547 518h1v1h-1zM583 518h2v1h-2zM663 518h2v1h-2zM726 518h1v1h-1zM790 518h1v1h-1zM536 519h7v1h-7zM545 519h2v1h-2zM585 519h2v1h-2zM665 519h2v1h-2zM726 519h1v1h-1zM791 519h1v1h-1zM543 520h2v1h-2zM587 520h1v1h-1zM667 520h2v1h-2zM727 520h1v1h-1zM792 520h1v1h-1zM542 521h2v1h-2zM588 521h2v1h-2zM669 521h2v1h-2zM727 521h1v1h-1zM793 521h1v1h-1zM540 522h2v1h-2zM590 522h2v1h-2zM671 522h2v1h-2zM727 522h1v1h-1zM794 522h1v1h-1zM539 523h1v1h-1zM592 523h2v1h-2zM673 523h2v1h-2zM728 523h1v1h-1zM795 523h1v1h-1zM537 524h2v1h-2zM594 524h1v1h-1zM675 524h2v1h-2zM728 524h1v1h-1zM796 524h1v1h-1zM536 525h1v1h-1zM595 525h2v1h-2zM677 525h2v1h-2zM729 525h1v1h-1zM797 525h1v1h-1zM534 526h2v1h-2zM597 526h2v1h-2zM679 526h2v1h-2zM729 526h1v1h-1zM798 526h2v1h-2zM533 527h1v1h-1zM599 527h1v1h-1zM681 527h2v1h-2zM729 527h1v1h-1zM800 527h1v1h-1zM531 528h2v1h-2zM600 528h2v1h-2zM683 528h2v1h-2zM730 528h1v1h-1zM801 528h1v1h-1zM529 529h2v1h-2zM602 529h2v1h-2zM685 529h2v1h-2zM730 529h1v1h-1zM802 529h1v1h-1zM528 530h1v1h-1zM604 530h2v1h-2zM687 530h2v1h-2zM730 530h1v1h-1zM803 530h1v1h-1zM526 531h2v1h-2zM606 531h1v1h-1zM689 531h2v1h-2zM731 531h1v1h-1zM804 531h1v1h-1zM525 532h1v1h-1zM607 532h2v1h-2zM691 532h2v1h-2zM731 532h1v1h-1zM805 532h1v1h-1zM523 533h2v1h-2zM609 533h2v1h-2zM693 533h2v1h-2zM731 533h1v1h-1zM806 533h1v1h-1zM522 534h1v1h-1zM611 534h1v1h-1zM695 534h2v1h-2zM732 534h1v1h-1zM807 534h1v1h-1zM520 535h2v1h-2zM612 535h2v1h-2zM697 535h2v1h-2zM732 535h1v1h-1zM808 535h1v1h-1zM518 536h2v1h-2zM614 536h2v1h-2zM699 536h2v1h-2zM733 536h1v1h-1zM809 536h1v1h-1zM517 537h1v1h-1zM616 537h1v1h-1zM701 537h2v1h-2zM733 537h1v1h-1zM810 537h1v1h-1zM515 538h2v1h-2zM617 538h2v1h-2zM703 538h2v1h-2zM733 538h1v1h-1zM811 538h1v1h-1zM514 539h1v1h-1zM619 539h2v1h-2zM705 539h2v1h-2zM734 539h1v1h-1zM812 539h1v1h-1zM512 540h2v1h-2zM621 540h2v1h-2zM707 540h2v1h-2zM734 540h1v1h-1zM813 540h1v1h-1zM511 541h1v1h-1zM623 541h1v1h-1zM709 541h2v1h-2zM734 541h1v1h-1zM814 541h1v1h-1zM509 542h2v1h-2zM624 542h2v1h-2zM711 542h2v1h-2zM735 542h1v1h-1zM815 542h1v1h-1zM507 543h2v1h-2zM626 543h2v1h-2zM713 543h2v1h-2zM735 543h1v1h-1zM816 543h1v1h-1zM506 544h1v1h-1zM628 544h1v1h-1zM715 544h2v1h-2zM736 544h1v1h-1zM817 544h1v1h-1zM504 545h2v1h-2zM629 545h2v1h-2zM717 545h2v1h-2zM736 545h1v1h-1zM818 545h1v1h-1zM503 546h1v1h-1zM631 546h2v1h-2zM719 546h2v1h-2zM736 546h1v1h-1zM819 546h1v1h-1zM501 547h2v1h-2zM633 547h2v1h-2zM721 547h2v1h-2zM737 547h1v1h-1zM820 547h1v1h-1zM500 548h1v1h-1zM635 548h1v1h-1zM723 548h2v1h-2zM737 548h1v1h-1zM821 548h1v1h-1zM498 549h2v1h-2zM636 549h2v1h-2zM725 549h2v1h-2zM737 549h1v1h-1zM822 549h1v1h-1zM496 550h2v1h-2zM638 550h2v1h-2zM727 550h2v1h-2zM738 550h1v1h-1zM823 550h1v1h-1zM495 551h1v1h-1zM640 551h1v1h-1zM729 551h2v1h-2zM738 551h1v1h-1zM824 551h1v1h-1zM493 552h2v1h-2zM641 552h2v1h-2zM731 552h2v1h-2zM739 552h1v1h-1zM825 552h1v1h-1zM492 553h1v1h-1zM643 553h2v1h-2zM733 553h2v1h-2zM739 553h1v1h-1zM826 553h1v1h-1zM490 554h2v1h-2zM645 554h2v1h-2zM735 554h2v1h-2zM739 554h1v1h-1zM827 554h1v1h-1zM489 555h1v1h-1zM647 555h1v1h-1zM737 555h2v1h-2zM740 555h1v1h-1zM828 555h1v1h-1zM487 556h2v1h-2zM648 556h2v1h-2zM739 556h2v1h-2zM829 556h1v1h-1zM485 557h2v1h-2zM632 557h1v1h-1zM650 557h2v1h-2zM740 557h3v1h-3zM830 557h1v1h-1zM484 558h1v1h-1zM628 558h4v1h-4zM652 558h1v1h-1zM741 558h1v1h-1zM743 558h2v1h-2zM831 558h1v1h-1zM482 559h2v1h-2zM624 559h4v1h-4zM653 559h2v1h-2zM741 559h1v1h-1zM745 559h2v1h-2zM832 559h1v1h-1zM481 560h1v1h-1zM620 560h4v1h-4zM655 560h2v1h-2zM741 560h1v1h-1zM747 560h2v1h-2zM833 560h1v1h-1zM479 561h2v1h-2zM616 561h4v1h-4zM657 561h1v1h-1zM742 561h1v1h-1zM749 561h2v1h-2zM834 561h1v1h-1zM478 562h1v1h-1zM613 562h3v1h-3zM658 562h2v1h-2zM742 562h1v1h-1zM751 562h2v1h-2zM835 562h2v1h-2zM476 563h2v1h-2zM609 563h4v1h-4zM660 563h2v1h-2zM743 563h1v1h-1zM753 563h2v1h-2zM837 563h1v1h-1zM474 564h2v1h-2zM605 564h4v1h-4zM662 564h2v1h-2zM743 564h1v1h-1zM755 564h2v1h-2zM838 564h1v1h-1zM473 565h1v1h-1zM601 565h4v1h-4zM664 565h1v1h-1zM743 565h1v1h-1zM757 565h2v1h-2zM839 565h1v1h-1zM471 566h2v1h-2zM597 566h4v1h-4zM665 566h2v1h-2zM744 566h1v1h-1zM759 566h2v1h-2zM840 566h1v1h-1zM470 567h1v1h-1zM593 567h4v1h-4zM667 567h2v1h-2zM744 567h1v1h-1zM761 567h2v1h-2zM841 567h1v1h-1zM590 568h3v1h-3zM669 568h1v1h-1zM744 568h1v1h-1zM763 568h2v1h-2zM842 568h1v1h-1zM586 569h4v1h-4zM670 569h2v1h-2zM745 569h1v1h-1zM765 569h2v1h-2zM843 569h1v1h-1zM582 570h4v1h-4zM672 570h2v1h-2zM745 570h1v1h-1zM767 570h2v1h-2zM844 570h1v1h-1zM578 571h4v1h-4zM674 571h2v1h-2zM746 571h1v1h-1zM769 571h2v1h-2zM845 571h1v1h-1zM574 572h4v1h-4zM676 572h1v1h-1zM746 572h1v1h-1zM771 572h2v1h-2zM846 572h1v1h-1zM571 573h3v1h-3zM677 573h2v1h-2zM746 573h1v1h-1zM773 573h2v1h-2zM847 573h1v1h-1zM567 574h4v1h-4zM679 574h2v1h-2zM747 574h1v1h-1zM775 574h2v1h-2zM848 574h1v1h-1zM563 575h4v1h-4zM681 575h1v1h-1zM747 575h1v1h-1zM777 575h2v1h-2zM849 575h1v1h-1zM559 576h4v1h-4zM682 576h2v1h-2zM747 576h1v1h-1zM779 576h2v1h-2zM850 576h1v1h-1zM555 577h4v1h-4zM684 577h2v1h-2zM748 577h1v1h-1zM781 577h2v1h-2zM851 577h1v1h-1zM551 578h4v1h-4zM686 578h1v1h-1zM748 578h1v1h-1zM783 578h2v1h-2zM852 578h1v1h-1zM548 579h3v1h-3zM687 579h2v1h-2zM748 579h1v1h-1zM785 579h2v1h-2zM853 579h1v1h-1zM544 580h4v1h-4zM689 580h2v1h-2zM749 580h1v1h-1zM787 580h2v1h-2zM854 580h1v1h-1zM540 581h4v1h-4zM691 581h2v1h-2zM749 581h1v1h-1zM789 581h2v1h-2zM855 581h1v1h-1zM536 582h4v1h-4zM693 582h1v1h-1zM750 582h1v1h-1zM791 582h2v1h-2zM856 582h1v1h-1zM532 583h4v1h-4zM694 583h2v1h-2zM750 583h1v1h-1zM793 583h2v1h-2zM857 583h1v1h-1zM529 584h3v1h-3zM696 584h2v1h-2zM750 584h1v1h-1zM795 584h2v1h-2zM858 584h1v1h-1zM525 585h4v1h-4zM698 585h1v1h-1zM751 585h1v1h-1zM797 585h2v1h-2zM859 585h1v1h-1zM521 586h4v1h-4zM699 586h2v1h-2zM751 586h1v1h-1zM799 586h2v1h-2zM860 586h1v1h-1zM517 587h4v1h-4zM701 587h2v1h-2zM751 587h1v1h-1zM801 587h2v1h-2zM861 587h1v1h-1zM513 588h4v1h-4zM703 588h2v1h-2zM752 588h1v1h-1zM803 588h2v1h-2zM862 588h1v1h-1zM509 589h4v1h-4zM705 589h1v1h-1zM752 589h1v1h-1zM805 589h2v1h-2zM863 589h1v1h-1zM506 590h3v1h-3zM706 590h2v1h-2zM753 590h1v1h-1zM807 590h2v1h-2zM864 590h1v1h-1zM502 591h4v1h-4zM708 591h2v1h-2zM753 591h1v1h-1zM809 591h2v1h-2zM865 591h1v1h-1zM498 592h4v1h-4zM710 592h1v1h-1zM753 592h1v1h-1zM811 592h2v1h-2zM866 592h1v1h-1zM494 593h4v1h-4zM711 593h2v1h-2zM754 593h1v1h-1zM813 593h2v1h-2zM867 593h1v1h-1zM490 594h4v1h-4zM713 594h2v1h-2zM754 594h1v1h-1zM815 594h2v1h-2zM868 594h1v1h-1zM488 595h2v1h-2zM715 595h2v1h-2zM754 595h1v1h-1zM817 595h2v1h-2zM869 595h1v1h-1zM717 596h1v1h-1zM755 596h1v1h-1zM819 596h2v1h-2zM870 596h1v1h-1zM718 597h2v1h-2zM755 597h1v1h-1zM821 597h2v1h-2zM871 597h1v1h-1zM720 598h2v1h-2zM756 598h1v1h-1zM823 598h2v1h-2zM872 598h2v1h-2zM722 599h1v1h-1zM756 599h1v1h-1zM825 599h2v1h-2zM874 599h1v1h-1zM723 600h2v1h-2zM756 600h1v1h-1zM827 600h2v1h-2zM875 600h1v1h-1zM725 601h2v1h-2zM757 601h1v1h-1zM829 601h2v1h-2zM876 601h1v1h-1zM727 602h1v1h-1zM757 602h1v1h-1zM831 602h2v1h-2zM877 602h1v1h-1zM728 603h2v1h-2zM757 603h1v1h-1zM833 603h2v1h-2zM878 603h1v1h-1zM730 604h2v1h-2zM758 604h1v1h-1zM835 604h2v1h-2zM879 604h1v1h-1zM732 605h2v1h-2zM758 605h1v1h-1zM837 605h2v1h-2zM880 605h1v1h-1zM734 606h1v1h-1zM758 606h1v1h-1zM839 606h2v1h-2zM881 606h1v1h-1zM735 607h2v1h-2zM759 607h1v1h-1zM841 607h2v1h-2zM882 607h1v1h-1zM737 608h2v1h-2zM759 608h1v1h-1zM843 608h2v1h-2zM883 608h1v1h-1zM739 609h1v1h-1zM760 609h1v1h-1zM845 609h2v1h-2zM884 609h1v1h-1zM740 610h2v1h-2zM760 610h1v1h-1zM847 610h2v1h-2zM885 610h1v1h-1zM742 611h2v1h-2zM760 611h1v1h-1zM849 611h2v1h-2zM886 611h1v1h-1zM744 612h2v1h-2zM761 612h1v1h-1zM851 612h2v1h-2zM887 612h1v1h-1zM746 613h1v1h-1zM761 613h1v1h-1zM853 613h2v1h-2zM888 613h1v1h-1zM747 614h2v1h-2zM761 614h1v1h-1zM855 614h2v1h-2zM889 614h1v1h-1zM749 615h2v1h-2zM762 615h1v1h-1zM857 615h2v1h-2zM890 615h1v1h-1zM751 616h1v1h-1zM762 616h1v1h-1zM859 616h2v1h-2zM891 616h1v1h-1zM752 617h2v1h-2zM763 617h1v1h-1zM861 617h2v1h-2zM754 618h2v1h-2zM763 618h1v1h-1zM863 618h2v1h-2zM756 619h2v1h-2zM763 619h1v1h-1zM865 619h2v1h-2zM758 620h1v1h-1zM764 620h1v1h-1zM867 620h2v1h-2zM759 621h2v1h-2zM764 621h1v1h-1zM869 621h2v1h-2zM761 622h2v1h-2zM764 622h1v1h-1zM871 622h1v1h-1zM763 623h1v1h-1zM765 623h1v1h-1zM764 624h2v1h-2zM766 625h2v1h-2zM766 626h1v1h-1zM768 626h1v1h-1zM766 627h1v1h-1zM769 627h2v1h-2zM767 628h1v1h-1zM771 628h2v1h-2zM767 629h1v1h-1zM773 629h2v1h-2zM767 630h1v1h-1zM775 630h1v1h-1zM768 631h1v1h-1zM776 631h2v1h-2zM768 632h1v1h-1zM778 632h2v1h-2zM768 633h1v1h-1zM780 633h1v1h-1zM769 634h1v1h-1zM781 634h2v1h-2zM769 635h1v1h-1zM783 635h2v1h-2zM770 636h1v1h-1zM785 636h2v1h-2zM770 637h1v1h-1zM787 637h1v1h-1zM770 638h1v1h-1zM788 638h2v1h-2zM771 639h1v1h-1zM790 639h2v1h-2zM771 640h1v1h-1zM792 640h1v1h-1zM771 641h1v1h-1zM793 641h2v1h-2zM772 642h1v1h-1zM795 642h2v1h-2zM772 643h1v1h-1zM797 643h1v1h-1zM773 644h1v1h-1zM798 644h2v1h-2zM773 645h1v1h-1zM800 645h2v1h-2zM773 646h1v1h-1zM802 646h2v1h-2zM774 647h1v1h-1zM804 647h1v1h-1zM774 648h1v1h-1zM805 648h2v1h-2zM774 649h1v1h-1zM807 649h2v1h-2zM775 650h1v1h-1zM809 650h1v1h-1zM775 651h1v1h-1zM810 651h2v1h-2zM776 652h1v1h-1zM812 652h2v1h-2zM776 653h1v1h-1zM814 653h2v1h-2zM776 654h1v1h-1zM816 654h1v1h-1zM777 655h1v1h-1zM817 655h2v1h-2zM777 656h1v1h-1zM819 656h2v1h-2zM821 657h1v1h-1zM822 658h2v1h-2zM824 659h2v1h-2zM826 660h2v1h-2zM828 661h1v1h-1zM829 662h2v1h-2zM831 663h2v1h-2zM833 664h1v1h-1z"/>
<g transform="translate(867 618)" shape-rendering="crispEdges"><path fill="#80fcf4" d="M3 1h3v1h-3zM2 2h5v1h-5zM1 3h7v1h-7zM1 4h7v1h-7zM1 5h7v1h-7zM2 6h5v1h-5zM3 7h3v1h-3z"/><path fill="#000" d="M3 0h3v1h-3zM1 1h2v1h-2zM6 1h2v1h-2zM1 2h1v1h-1zM7 2h1v1h-1zM0 3h1v1h-1zM8 3h1v1h-1zM0 4h1v1h-1zM8 4h1v1h-1zM0 5h1v1h-1zM8 5h1v1h-1zM1 6h1v1h-1zM7 6h1v1h-1zM1 7h2v1h-2zM6 7h2v1h-2zM3 8h3v1h-3z"/></g>
<path fill="#000" shape-rendering="crispEdges" d="M661 420h1v1h-1zM662 421h1v1h-1zM663 422h1v1h-1zM664 423h1v1h-1zM665 424h1v1h-1zM666 425h1v1h-1zM667 426h1v1h-1zM668 427h1v1h-1zM669 428h1v1h-1zM670 429h1v1h-1zM671 430h1v1h-1zM672 431h1v1h-1zM673 432h2v1h-2zM675 433h1v1h-1zM676 434h1v1h-1zM677 435h1v1h-1zM678 436h1v1h-1zM679 437h1v1h-1zM680 438h1v1h-1zM681 439h1v1h-1zM682 440h1v1h-1zM683 441h1v1h-1zM684 442h1v1h-1zM685 443h1v1h-1zM686 444h1v1h-1zM687 445h1v1h-1zM688 446h1v1h-1zM689 447h1v1h-1zM690 448h1v1h-1zM691 449h1v1h-1zM692 450h1v1h-1zM693 451h1v1h-1zM694 452h1v1h-1zM695 453h1v1h-1zM696 454h1v1h-1zM697 455h1v1h-1zM698 456h1v1h-1zM699 457h2v1h-2zM701 458h1v1h-1zM702 459h1v1h-1zM703 460h1v1h-1zM704 461h1v1h-1zM705 462h1v1h-1zM706 463h1v1h-1zM707 464h1v1h-1zM708 465h1v1h-1zM709 466h1v1h-1zM710 467h1v1h-1zM711 468h1v1h-1zM712 469h1v1h-1zM713 470h1v1h-1zM714 471h1v1h-1zM715 472h1v1h-1zM716 473h1v1h-1zM717 474h1v1h-1zM718 475h1v1h-1zM719 476h1v1h-1zM720 477h1v1h-1zM721 478h1v1h-1zM722 479h1v1h-1zM723 480h1v1h-1zM724 481h1v1h-1zM725 482h1v1h-1zM726 483h2v1h-2zM728 484h1v1h-1zM729 485h1v1h-1zM730 486h1v1h-1zM731 487h1v1h-1zM732 488h1v1h-1zM733 489h1v1h-1zM734 490h1v1h-1zM735 491h1v1h-1zM736 492h1v1h-1zM737 493h1v1h-1zM738 494h1v1h-1zM739 495h1v1h-1zM740 496h1v1h-1zM741 497h1v1h-1zM742 498h1v1h-1zM743 499h1v1h-1zM744 500h1v1h-1zM745 501h1v1h-1zM746 502h1v1h-1zM747 503h1v1h-1zM748 504h1v1h-1zM749 505h1v1h-1zM750 506h1v1h-1zM751 507h1v1h-1zM752 508h2v1h-2zM754 509h1v1h-1zM755 510h1v1h-1zM756 511h1v1h-1zM757 512h1v1h-1zM758 513h1v1h-1zM759 514h1v1h-1zM760 515h1v1h-1zM761 516h1v1h-1zM762 517h1v1h-1zM763 518h1v1h-1zM764 519h1v1h-1zM765 520h1v1h-1zM766 521h1v1h-1zM767 522h1v1h-1zM768 523h1v1h-1zM769 524h1v1h-1zM770 525h1v1h-1zM771 526h1v1h-1zM772 527h1v1h-1zM773 528h1v1h-1zM774 529h1v1h-1zM775 530h1v1h-1zM776 531h1v1h-1zM777 532h1v1h-1zM778 533h2v1h-2zM780 534h1v1h-1zM781 535h1v1h-1zM782 536h1v1h-1zM783 537h1v1h-1zM784 538h1v1h-1zM785 539h1v1h-1zM786 540h1v1h-1zM787 541h1v1h-1zM788 542h1v1h-1zM789 543h1v1h-1zM790 544h1v1h-1zM791 545h1v1h-1zM792 546h1v1h-1zM793 547h1v1h-1zM794 548h1v1h-1zM795 549h1v1h-1zM796 550h1v1h-1zM797 551h1v1h-1zM798 552h1v1h-1zM799 553h1v1h-1zM800 554h1v1h-1zM801 555h1v1h-1zM802 556h1v1h-1zM803 557h1v1h-1zM804 558h1v1h-1zM805 559h2v1h-2zM807 560h1v1h-1zM808 561h1v1h-1zM809 562h1v1h-1zM810 563h1v1h-1zM811 564h1v1h-1zM812 565h1v1h-1zM813 566h1v1h-1zM814 567h1v1h-1zM815 568h1v1h-1zM816 569h1v1h-1zM817 570h1v1h-1zM818 571h1v1h-1zM819 572h1v1h-1zM820 573h1v1h-1zM821 574h1v1h-1zM822 575h1v1h-1zM823 576h1v1h-1zM824 577h1v1h-1zM825 578h1v1h-1zM826 579h1v1h-1zM827 580h1v1h-1zM828 581h1v1h-1zM829 582h1v1h-1zM830 583h1v1h-1zM831 584h2v1h-2zM833 585h1v1h-1zM834 586h1v1h-1zM835 587h1v1h-1zM836 588h1v1h-1zM837 589h1v1h-1zM838 590h1v1h-1zM839 591h1v1h-1zM840 592h1v1h-1zM841 593h1v1h-1zM842 594h1v1h-1zM843 595h1v1h-1zM844 596h1v1h-1zM845 597h1v1h-1zM846 598h1v1h-1zM847 599h1v1h-1zM848 600h1v1h-1zM849 601h1v1h-1zM850 602h1v1h-1zM851 603h1v1h-1zM852 604h1v1h-1zM853 605h1v1h-1zM854 606h1v1h-1zM855 607h1v1h-1zM856 608h1v1h-1zM857 609h2v1h-2zM859 610h1v1h-1zM860 611h1v1h-1zM861 612h1v1h-1zM862 613h1v1h-1zM863 614h1v1h-1zM864 615h1v1h-1zM865 616h1v1h-1zM866 617h1v1h-1zM867 618h1v1h-1zM868 619h1v1h-1zM869 620h1v1h-1zM870 621h1v1h-1zM871 622h1v1h-1z"/>
</svg></body></html>
